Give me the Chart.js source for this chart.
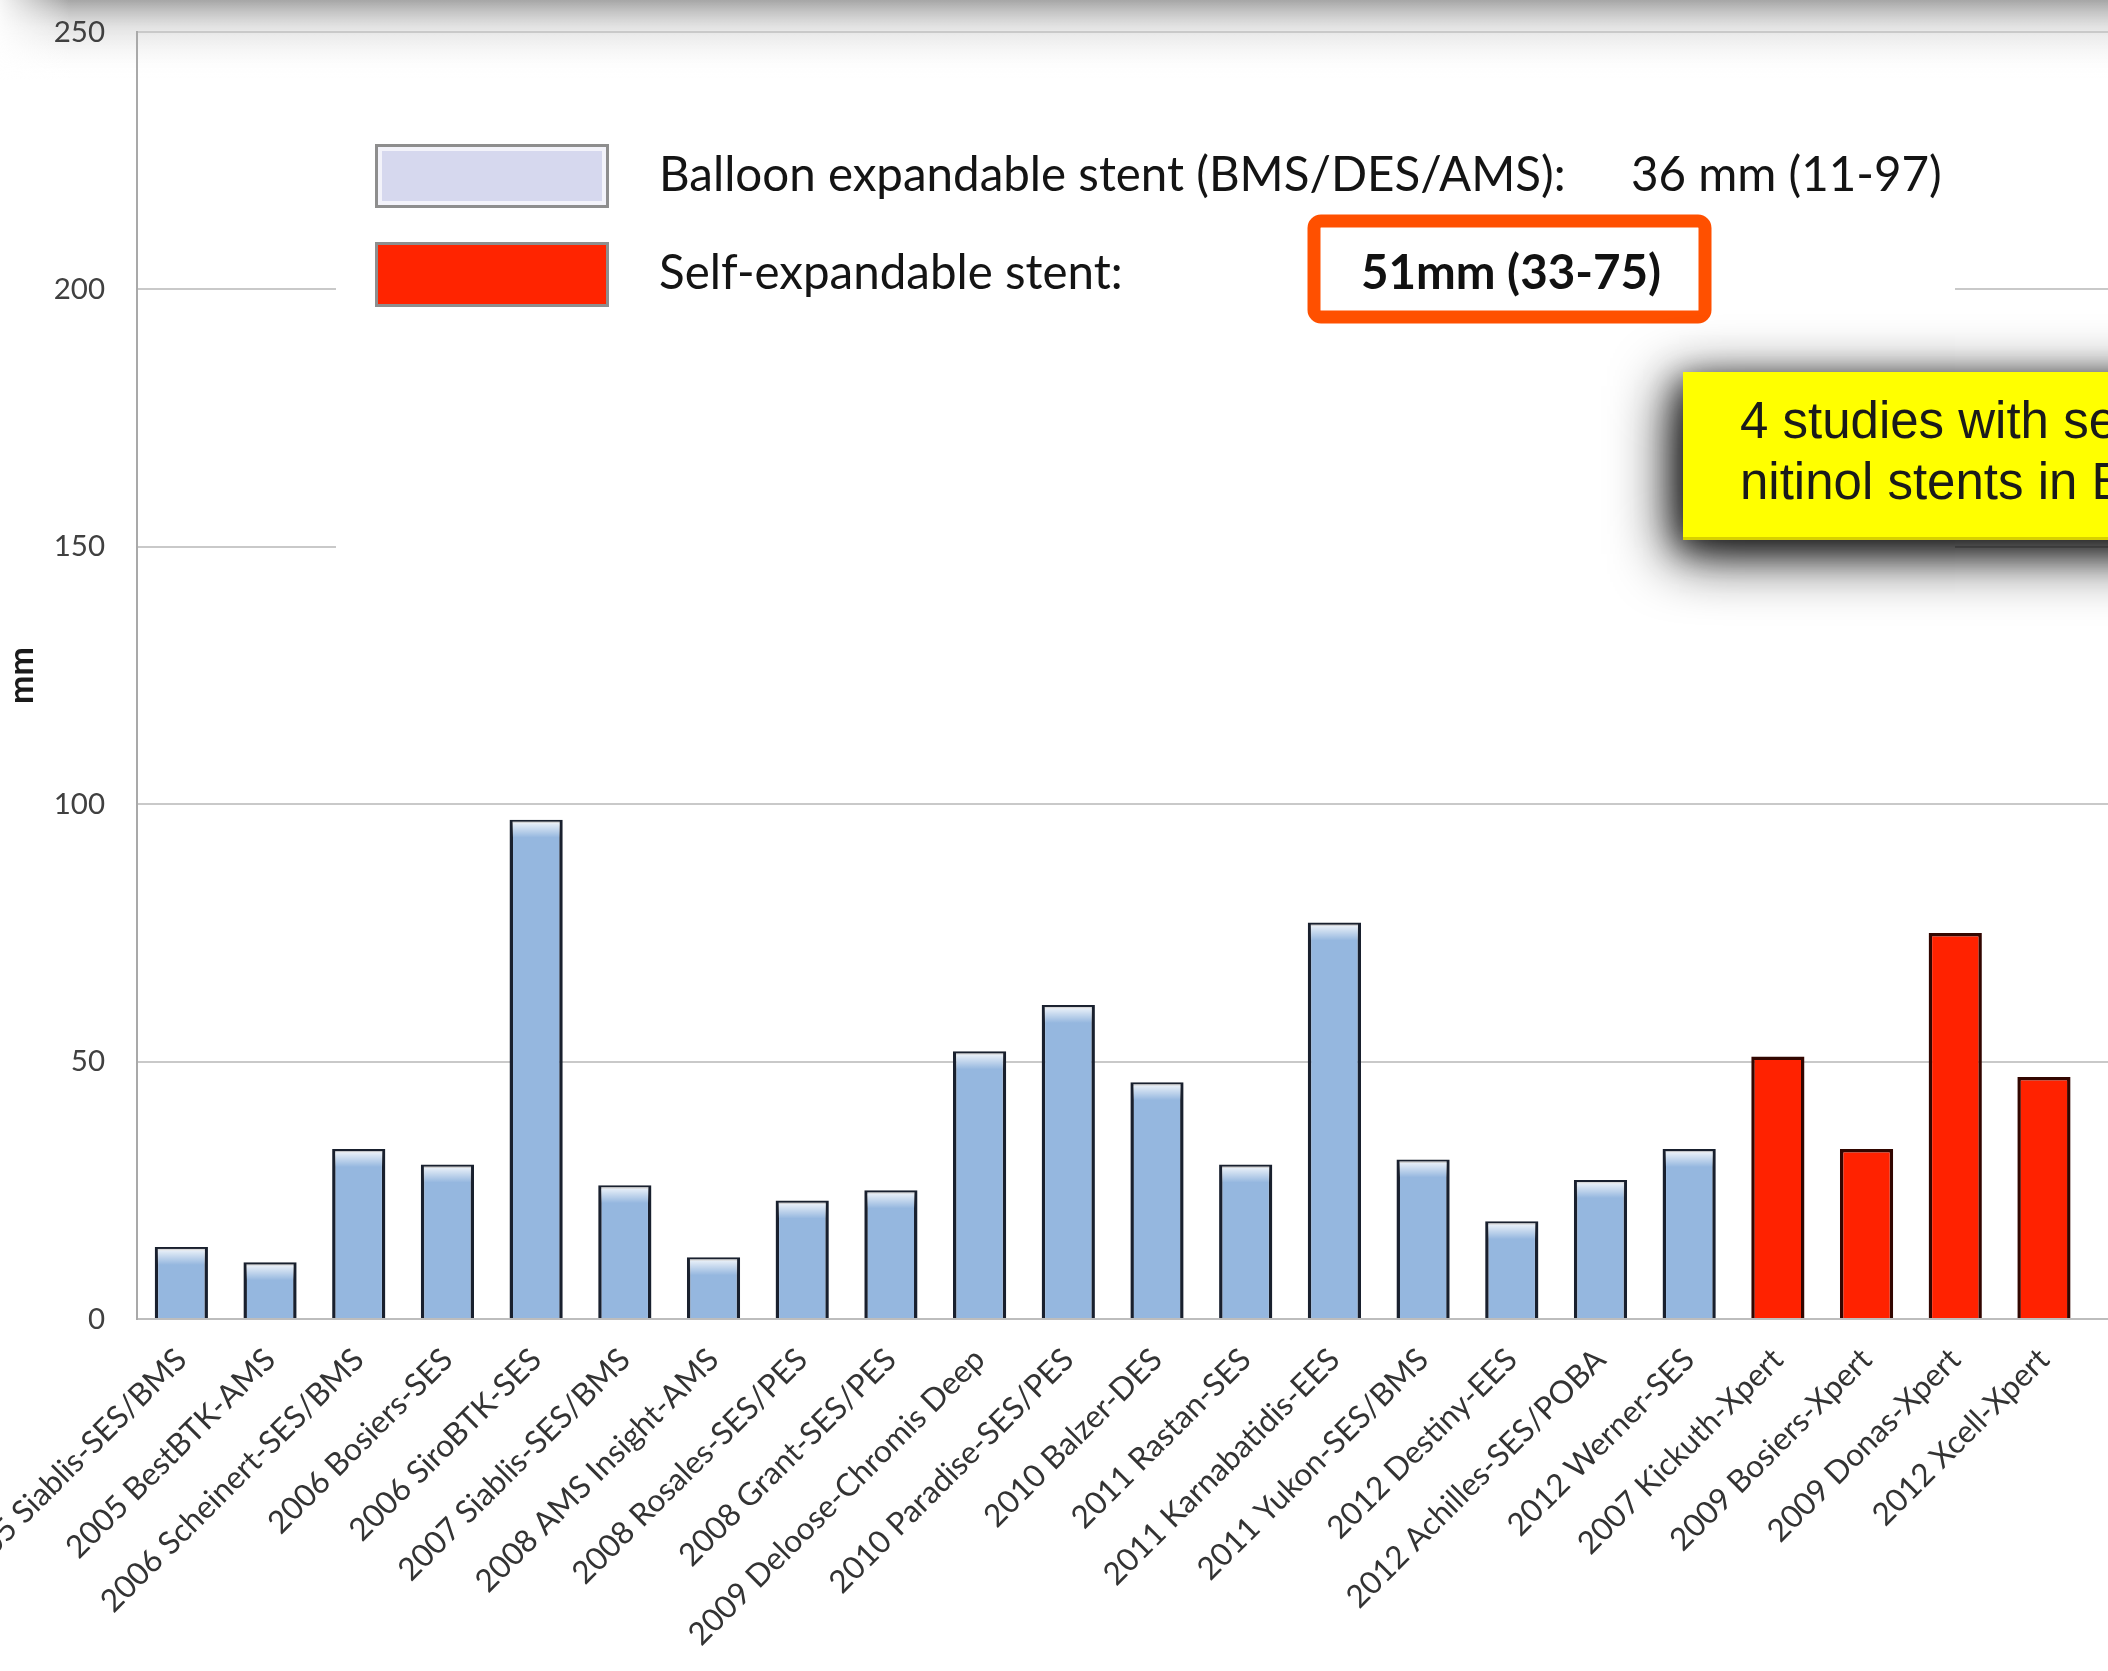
<!DOCTYPE html>
<html>
<head>
<meta charset="utf-8">
<script src="https://cdn.jsdelivr.net/npm/chart.js@4.4.1/dist/chart.umd.min.js"></script>
<style>
  html, body { margin: 0; padding: 0; background: #fff; overflow: hidden; width: 2108px; height: 1671px; }
  #wrap { position: absolute; left: 0; top: 0; }
  canvas { display: block; }
</style>
</head>
<body>
<div id="wrap"><canvas id="chart" width="2177" height="1671"></canvas></div>
<script>
// Lesion length per study (mm); the last slot is the next study, cut off at the right edge
const studies = [
  '2005 Siablis-SES/BMS', '2005 BestBTK-AMS', '2006 Scheinert-SES/BMS', '2006 Bosiers-SES',
  '2006 SiroBTK-SES', '2007 Siablis-SES/BMS', '2008 AMS Insight-AMS', '2008 Rosales-SES/PES',
  '2008 Grant-SES/PES', '2009 Deloose-Chromis Deep', '2010 Paradise-SES/PES', '2010 Balzer-DES',
  '2011 Rastan-SES', '2011 Karnabatidis-EES', '2011 Yukon-SES/BMS', '2012 Destiny-EES',
  '2012 Achilles-SES/POBA', '2012 Werner-SES', '2007 Kickuth-Xpert', '2009 Bosiers-Xpert',
  '2009 Donas-Xpert', '2012 Xcell-Xpert', ''
];
const lesionLengthMm = [14, 11, 33, 30, 97, 26, 12, 23, 25, 52, 61, 46, 30, 77, 31, 19, 27, 33, 51, 33, 75, 47, null];
const stentType = [
  'balloon', 'balloon', 'balloon', 'balloon', 'balloon', 'balloon', 'balloon', 'balloon', 'balloon',
  'balloon', 'balloon', 'balloon', 'balloon', 'balloon', 'balloon', 'balloon', 'balloon', 'balloon',
  'self', 'self', 'self', 'self', null
];
const yTickValues = [0, 50, 100, 150, 200, 250];
const legendLabels = ['Balloon expandable stent (BMS/DES/AMS):', 'Self-expandable stent:'];
const legendSummaries = ['36 mm (11-97)', '51mm (33-75)'];
const noteLines = ['4 studies with se', 'nitinol stents in B'];

const FILL = { balloon: '#95b7df', self: '#ff2200' };
const EDGE = { balloon: '#19202e', self: '#320600' };
const SWATCH = { balloon: '#d6d8ee', self: '#ff2400' };

// gray shade along the top edge, behind the axes
const topShade = {
  id: 'topShade',
  beforeDraw(chart) {
    const ctx = chart.ctx;
    ctx.save();
    const g = ctx.createLinearGradient(0, 0, 0, 80);
    g.addColorStop(0, 'rgba(150,150,150,0.85)');
    g.addColorStop(0.35, 'rgba(195,195,195,0.45)');
    g.addColorStop(1, 'rgba(255,255,255,0)');
    ctx.fillStyle = g;
    ctx.fillRect(0, 0, chart.width, 80);
    const s = ctx.createLinearGradient(0, 0, 70, 0);
    s.addColorStop(0, 'rgba(255,255,255,0.9)');
    s.addColorStop(1, 'rgba(255,255,255,0)');
    ctx.fillStyle = s;
    ctx.fillRect(0, 0, 70, 80);
    ctx.restore();
  }
};

// glossy top edge on the blue bars
const barGloss = {
  id: 'barGloss',
  afterDatasetsDraw(chart) {
    const ctx = chart.ctx;
    const meta = chart.getDatasetMeta(0);
    ctx.save();
    meta.data.forEach((bar, i) => {
      if (stentType[i] !== 'balloon' || lesionLengthMm[i] == null) return;
      const p = bar.getProps(['x', 'y', 'width'], true);
      const left = p.x - p.width / 2 + 3, w = p.width - 6, top = p.y + 2;
      const g = ctx.createLinearGradient(0, top, 0, top + 16);
      g.addColorStop(0, 'rgba(255,255,255,0.85)');
      g.addColorStop(1, 'rgba(255,255,255,0)');
      ctx.fillStyle = g;
      ctx.fillRect(left, top, w, 16);
    });
    ctx.restore();
  }
};

function swatch(ctx, x, y, w, h, fill, bevel) {
  ctx.fillStyle = fill;
  ctx.fillRect(x, y, w, h);
  if (bevel) {
    ctx.strokeStyle = 'rgba(255,255,255,0.7)';
    ctx.lineWidth = 4;
    ctx.strokeRect(x + 5, y + 5, w - 10, h - 10);
  }
  ctx.strokeStyle = '#8e8e8e';
  ctx.lineWidth = 3;
  ctx.strokeRect(x + 1.5, y + 1.5, w - 3, h - 3);
}

// legend panel, summary box and the yellow note
const overlays = {
  id: 'overlays',
  afterDraw(chart) {
    const ctx = chart.ctx;
    ctx.save();
    // white legend panel over the upper gridlines
    ctx.fillStyle = '#ffffff';
    ctx.fillRect(336, 84, 1619, 560);

    swatch(ctx, 375, 144, 234, 64, SWATCH.balloon, true);
    swatch(ctx, 375, 242, 234, 65, SWATCH.self, false);

    ctx.fillStyle = '#141414';
    ctx.textBaseline = 'middle';
    ctx.textAlign = 'left';
    ctx.font = '47.5px Lato';
    ctx.fillText(legendLabels[0], 659, 176);
    ctx.fillText(legendSummaries[0], 1631, 176);
    ctx.fillText(legendLabels[1], 659, 274);

    // highlighted summary for the self-expandable group
    ctx.strokeStyle = '#ff5000';
    ctx.lineWidth = 13;
    ctx.beginPath();
    ctx.roundRect(1314, 221, 391, 96, 7);
    ctx.stroke();
    ctx.fillStyle = '#111';
    ctx.textAlign = 'center';
    ctx.font = 'bold 47.5px Lato';
    ctx.fillText(legendSummaries[1], 1511, 274);

    // yellow note with a heavy drop shadow
    ctx.save();
    ctx.fillStyle = '#ffff00';
    ctx.shadowColor = 'rgba(0,0,0,0.95)';
    ctx.shadowBlur = 60;
    ctx.shadowOffsetX = -10;
    ctx.shadowOffsetY = 14;
    ctx.fillRect(1683, 372, 560, 168);
    ctx.shadowColor = 'rgba(0,0,0,0.6)';
    ctx.shadowBlur = 30;
    ctx.shadowOffsetX = -4;
    ctx.shadowOffsetY = 8;
    ctx.fillRect(1683, 372, 560, 168);
    ctx.restore();
    ctx.fillStyle = '#d8d000';
    ctx.fillRect(1683, 537, 560, 3);
    ctx.fillStyle = '#1a1a1a';
    ctx.textAlign = 'left';
    ctx.font = '51px "Liberation Sans"';
    ctx.fillText(noteLines[0], 1740, 424);
    ctx.fillText(noteLines[1], 1740, 485);
    ctx.restore();
  }
};

function build() {
  Chart.defaults.font.family = 'Lato';
  new Chart(document.getElementById('chart'), {
    type: 'bar',
    data: {
      labels: studies,
      datasets: [{
        data: lesionLengthMm,
        backgroundColor: stentType.map(t => FILL[t] || 'transparent'),
        borderColor: stentType.map(t => EDGE[t] || 'transparent'),
        borderWidth: 3.5,
        barPercentage: 0.6,
        categoryPercentage: 1.0
      }]
    },
    options: {
      responsive: false,
      animation: false,
      devicePixelRatio: 1,
      layout: { padding: { top: 32, left: 0, right: 0, bottom: 0 } },
      plugins: { legend: { display: false }, tooltip: { enabled: false } },
      scales: {
        x: {
          grid: { display: false, drawTicks: false },
          border: { display: true, color: '#bdbdbd', width: 2 },
          ticks: {
            autoSkip: false, minRotation: 45, maxRotation: 45, padding: 22,
            color: '#333', font: { family: 'Lato', size: 31.5 }
          },
          afterFit(scale) { scale.height = 352; scale.paddingLeft = 0; scale.paddingRight = 0; }
        },
        y: {
          min: 0, max: 250,
          afterBuildTicks(scale) { scale.ticks = yTickValues.map(v => ({ value: v })); },
          ticks: { padding: 32, color: '#404040', font: { family: 'Lato', size: 29.5 } },
          grid: { color: '#c9c9c9', lineWidth: 2, drawTicks: false },
          border: { display: true, color: '#a9a9a9', width: 2 },
          title: {
            display: true, text: 'mm', color: '#1a1a1a',
            font: { family: 'Lato', weight: 'bold', size: 34 }, padding: { top: 2, bottom: 0 }
          },
          afterFit(scale) { scale.width = 137; scale.paddingTop = 0; scale.paddingBottom = 0; }
        }
      }
    },
    plugins: [topShade, barGloss, overlays]
  });
}

Promise.all([
  document.fonts.load('30px Lato'),
  document.fonts.load('bold 44px Lato'),
  document.fonts.load('47px "Liberation Sans"')
]).then(build, build);
</script>
</body>
</html>
